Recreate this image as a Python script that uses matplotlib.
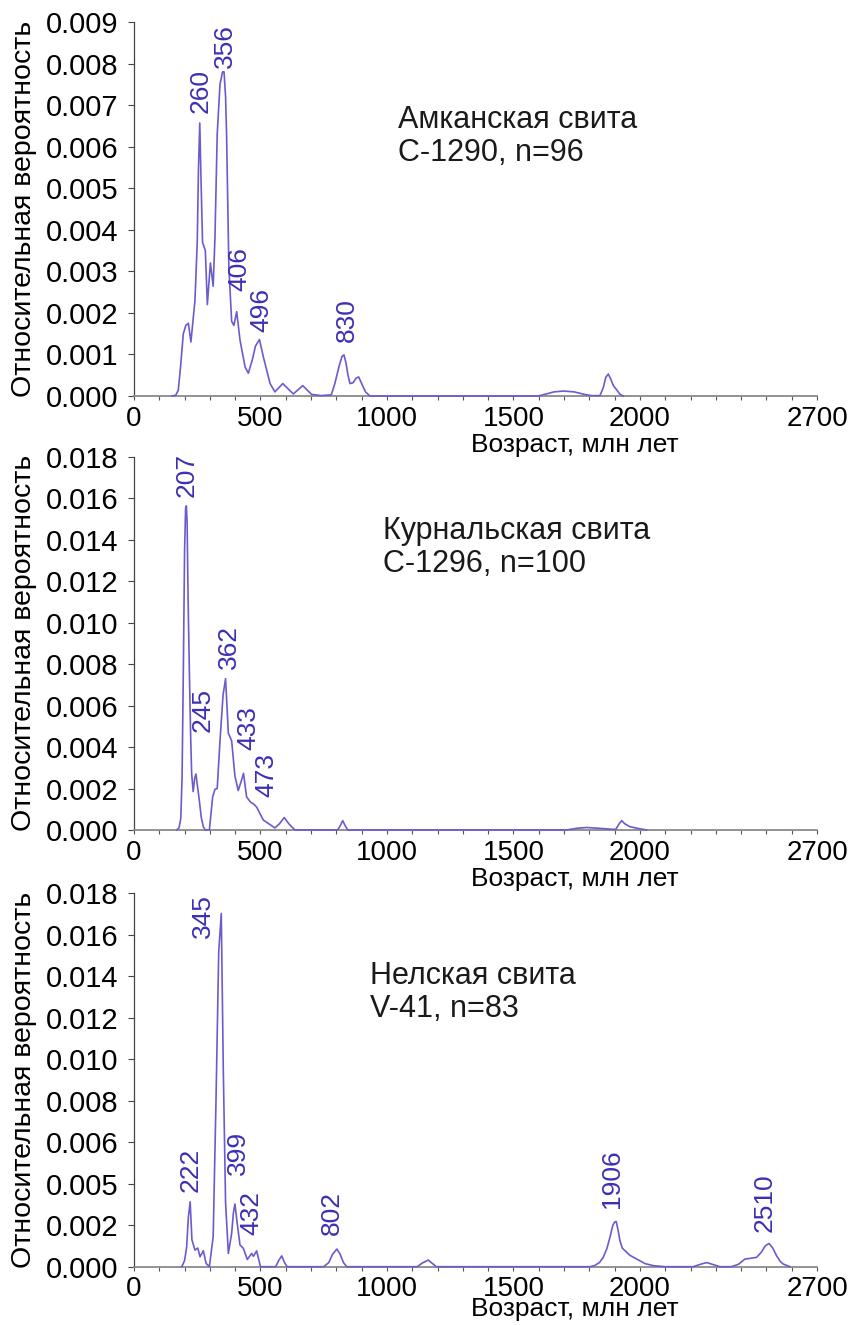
import numpy as np
import matplotlib.pyplot as plt
from matplotlib.ticker import MultipleLocator

plt.rcParams['font.family'] = ['Liberation Sans', 'DejaVu Sans']

# Probability density curves (age, Ma -> relative probability)
amk_age = [150, 165, 175, 184, 195, 205, 215, 225, 241, 250, 255, 260, 265, 271, 282,
           290, 302, 313, 320, 329, 340, 350, 356, 362, 366, 375, 386, 395, 406,
           419, 439, 452, 469, 480, 496, 511, 538, 557, 588, 630, 667, 702, 740,
           780, 794, 810, 822, 830, 838, 846, 854, 866, 878, 888, 900, 915, 933,
           1597, 1630, 1660, 1697, 1740, 1780, 1810,
           1842, 1855, 1865, 1875, 1885, 1895, 1908, 1920, 1933]
amk_val = [0, 0.00002, 0.00014, 0.0007, 0.0015, 0.0017, 0.00175, 0.0013, 0.0023, 0.0037, 0.0055, 0.00657, 0.0052, 0.0037, 0.0035,
           0.0022, 0.0032, 0.00264, 0.0038, 0.0063, 0.0075, 0.0078, 0.0078, 0.0072, 0.0063, 0.0031, 0.0018, 0.0017, 0.00203,
           0.00135, 0.0007, 0.00055, 0.0009, 0.0012, 0.00136, 0.00095, 0.0003, 0.0001, 0.0003, 0.00005, 0.00025, 0.00004, 0.00001,
           0.00003, 0.0003, 0.0007, 0.00095, 0.00099, 0.0008, 0.0005, 0.0003, 0.00032, 0.00043, 0.00046, 0.0003, 0.0001, 0,
           0, 0.00005, 0.0001, 0.00012, 0.0001, 0.00004, 0.00001,
           0.00001, 0.0002, 0.00045, 0.00053, 0.0004, 0.00025, 0.00015, 0.00005, 0]

kur_age = [169, 178, 185, 190, 195, 200, 204, 207, 210, 214, 219, 224, 228, 234, 240, 245, 250, 258,
           266, 274, 282, 298, 311, 320, 329, 340, 352, 362, 373, 386, 399, 412, 425, 433, 445,
           460, 473, 485, 511, 557, 575, 594, 612, 636, 805, 815, 825, 835, 845,
           1710, 1750, 1789, 1840, 1894, 1905, 1918, 1928, 1940, 1960, 1990, 2026]
kur_val = [0, 0.0001, 0.00056, 0.0025, 0.0076, 0.0135, 0.0155, 0.01563, 0.0148, 0.011, 0.0076, 0.0045, 0.0027, 0.00185, 0.0025, 0.0027, 0.0022, 0.00145,
           0.0006, 0.00016, 0, 0, 0.0016, 0.00196, 0.002, 0.0043, 0.0065, 0.0073, 0.00467, 0.0043, 0.0026, 0.0019, 0.0024, 0.00273, 0.0016,
           0.00135, 0.00125, 0.0011, 0.00048, 0.0001, 0.0003, 0.0006, 0.0003, 0, 0, 0.0002, 0.00045, 0.0002, 0,
           0, 0.00008, 0.00012, 0.00008, 0.00003, 0.00004, 0.0003, 0.00045, 0.0003, 0.00016, 0.00008, 0]

nel_age = [189, 200, 208, 215, 222, 229, 241, 252, 261, 274, 285, 298, 313, 324, 335, 345, 353, 362,
           373, 386, 393, 399, 408, 419, 432, 448, 465, 472, 485, 500, 560, 572, 584, 595, 605,
           750, 770, 785, 802, 815, 828, 841, 1120, 1140, 1163, 1180, 1195,
           1802, 1820, 1840, 1855, 1870, 1881, 1893, 1900, 1906, 1913, 1921, 1930, 1941, 1960, 1987, 2020, 2053, 2100,
           2211, 2240, 2264, 2290, 2316,
           2362, 2390, 2415, 2435, 2461, 2480, 2495, 2510, 2525, 2540, 2555, 2566, 2593]
nel_val = [0, 0.0003, 0.00093, 0.0024, 0.00313, 0.0013, 0.0008, 0.0009, 0.00048, 0.00077, 0.00016, 0, 0.00145, 0.0079, 0.0152, 0.01703, 0.0095, 0.0031,
           0.00064, 0.0016, 0.0026, 0.00302, 0.0021, 0.00105, 0.00089, 0.00035, 0.00064, 0.0005, 0.00076, 0, 0, 0.0003, 0.00052, 0.0002, 0,
           0, 0.0002, 0.0006, 0.00085, 0.0006, 0.0002, 0, 0, 0.00018, 0.00032, 0.00015, 0,
           0, 0.00005, 0.0002, 0.00045, 0.0009, 0.0014, 0.002, 0.00215, 0.00218, 0.0018, 0.00125, 0.0009, 0.00077, 0.00055, 0.00037, 0.00015, 0.00005, 0,
           0, 0.00012, 0.0002, 0.0001, 0,
           0, 0.00012, 0.00037, 0.0004, 0.00045, 0.0007, 0.001, 0.00112, 0.0009, 0.00053, 0.00025, 0.00013, 0]

# Peak labels (ages)
amk_peaks = [260, 356, 406, 496, 830]
kur_peaks = [207, 245, 362, 433, 473]
nel_peaks = [222, 345, 399, 432, 802, 1906, 2510]

# label offsets from the curve in pixels (dx, dy)
amk_off = [(1, 10), (1, 4), (3, 21), (2, 8), (3, 13)]
kur_off = [(0, 9), (7, 42), (3, 10), (5, 23), (13, 7)]
nel_off = [(0, 10), (-18, -25), (3, 29), (8, 13), (-5, 14), (-4, 13), (-4, 11)]

titles = ['Амканская свита\nC-1290, n=96',
          'Курнальская свита\nC-1296, n=100',
          'Нелская свита\nV-41, n=83']
title_pos = [(0.3865, 0.778), (0.3646, 0.842), (0.3455, 0.819)]

ymax = [0.009, 0.018, 0.018]
yticks = [np.arange(0, 0.0091, 0.001), np.arange(0, 0.0181, 0.002), np.arange(0, 0.0181, 0.002)]
ylabels3 = ['0.000', '0.002', '0.005', '0.006', '0.008', '0.010', '0.012', '0.014', '0.016', '0.018']
xticks = [0, 500, 1000, 1500, 2000, 2700]
xlab_y = [-0.098, -0.098, -0.082]

line_c = '#6a5ccf'
lab_c = '#3b2fb5'

fig = plt.figure(figsize=(8.54, 13.25), dpi=100)
px = 72 / 100  # points per pixel
boxes = [[0.1569, 0.7011, 0.7998, 0.2823],
         [0.1569, 0.3736, 0.7998, 0.2817],
         [0.1569, 0.0440, 0.7998, 0.2818]]
ages = [amk_age, kur_age, nel_age]
vals = [amk_val, kur_val, nel_val]
peaks = [amk_peaks, kur_peaks, nel_peaks]
offs = [amk_off, kur_off, nel_off]

for i in range(3):
    ax = fig.add_axes(boxes[i])
    ax.plot(ages[i], vals[i], color=line_c, lw=1.2, zorder=3, clip_on=False)
    ax.set_xlim(0, 2700)
    ax.set_ylim(0, ymax[i])
    ax.spines['top'].set_visible(False)
    ax.spines['right'].set_visible(False)
    ax.spines['left'].set_color('#444444')
    ax.spines['left'].set_linewidth(0.9)
    ax.spines['bottom'].set_color('#8a8a8a')
    ax.spines['bottom'].set_linewidth(1.3)

    ax.set_xticks(xticks)
    ax.xaxis.set_minor_locator(MultipleLocator(100))
    ax.tick_params(axis='x', which='both', length=3, width=0.8, color='#555555',
                   labelsize=20, pad=4)
    ax.set_yticks(yticks[i])
    if i == 2:
        ax.set_yticklabels(ylabels3)
    else:
        ax.set_yticklabels(['%.3f' % v for v in yticks[i]])
    ax.tick_params(axis='y', length=4, width=0.8, color='#444444', labelsize=21, pad=7)

    ax.set_ylabel('Относительная вероятность', fontsize=20.5)
    ax.yaxis.set_label_coords(-0.142, 0.5)
    ax.set_xlabel('Возраст, млн лет', fontsize=19)
    ax.xaxis.set_label_coords(0.6457, xlab_y[i])

    ax.text(title_pos[i][0], title_pos[i][1], titles[i], transform=ax.transAxes,
            fontsize=22, va='top', ha='left', linespacing=1.15, color='#1a1a1a')

    for p, (dx, dy) in zip(peaks[i], offs[i]):
        y = np.interp(p, ages[i], vals[i])
        ax.annotate(str(p), xy=(p, y), xytext=(dx * px, dy * px), textcoords='offset points',
                    rotation=90, ha='center', va='bottom', fontsize=19, color=lab_c)

fig.savefig('out.png', dpi=100)
